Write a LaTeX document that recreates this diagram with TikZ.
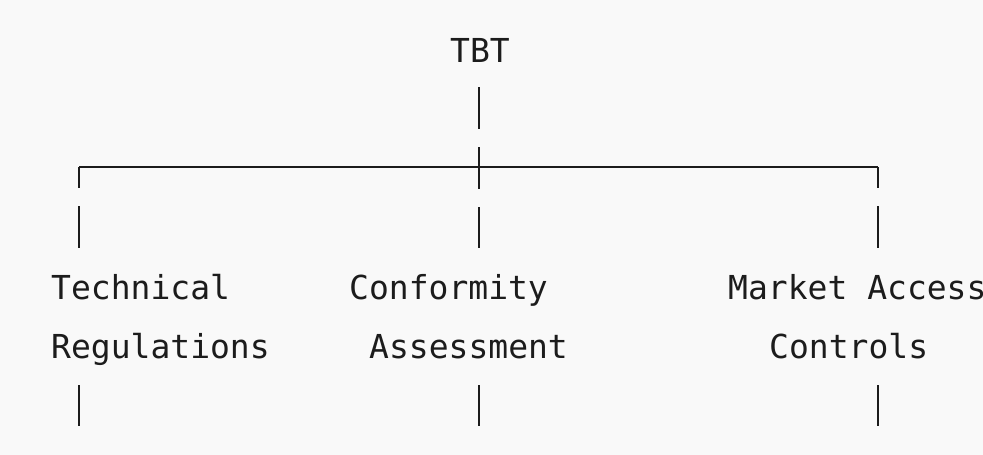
\documentclass[tikz,border=0pt]{standalone}
\usepackage{fontspec}
\setmonofont{DejaVu Sans Mono}
\usepackage{xcolor}
\usepackage{tikz}
\definecolor{paper}{HTML}{F9F9F9}
\definecolor{ink}{HTML}{1C1C1C}
\begin{document}
\begin{tikzpicture}[
  x=1pt, y=-1pt,
  lbl/.style={inner sep=0pt, anchor=base west, text=ink, font=\ttfamily\fontsize{33}{40}\selectfont},
  bar/.style={draw=ink, line width=2.2pt},
  pipe/.style={draw=ink, line width=2.2pt, dash pattern=on 42pt off 18pt},
  branch/.style={pipe, dash phase=21pt}
]
\useasboundingbox (0,0) rectangle (983,455);
\fill[paper] (0,0) rectangle (983,455);

% Root
\node[lbl, anchor=base] (tbt) at (480,62) {TBT};

% Bus coordinates
\coordinate (stem) at (479,87);
\coordinate (busL) at (79,167);
\coordinate (busC) at (479,167);
\coordinate (busR) at (878,167);
\coordinate (endL) at (79,248);
\coordinate (endC) at (479,248);
\coordinate (endR) at (878,248);

% Leaves
\node[lbl] (tech) at (51,299) {Technical};
\node[lbl] (regs) at (51,358) {Regulations};
\node[lbl] (conf) at (349,299) {Conformity};
\node[lbl] (asse) at (369,358) {Assessment};
\node[lbl] (mark) at (728,299) {Market Access};
\node[lbl] (ctrl) at (769,358) {Controls};

% Tails below leaves
\coordinate (tailL) at (79,385);
\coordinate (tailC) at (479,385);
\coordinate (tailR) at (878,385);

% Connectors
\draw[bar] (busL) -- (busR);
\draw[pipe] (stem) -- (busC) -- (endC);
\draw[branch] (busL) -- (endL);
\draw[branch] (busR) -- (endR);
\draw[bar] (tailL) -- ++(0,41);
\draw[bar] (tailC) -- ++(0,41);
\draw[bar] (tailR) -- ++(0,41);

\end{tikzpicture}
\end{document}
